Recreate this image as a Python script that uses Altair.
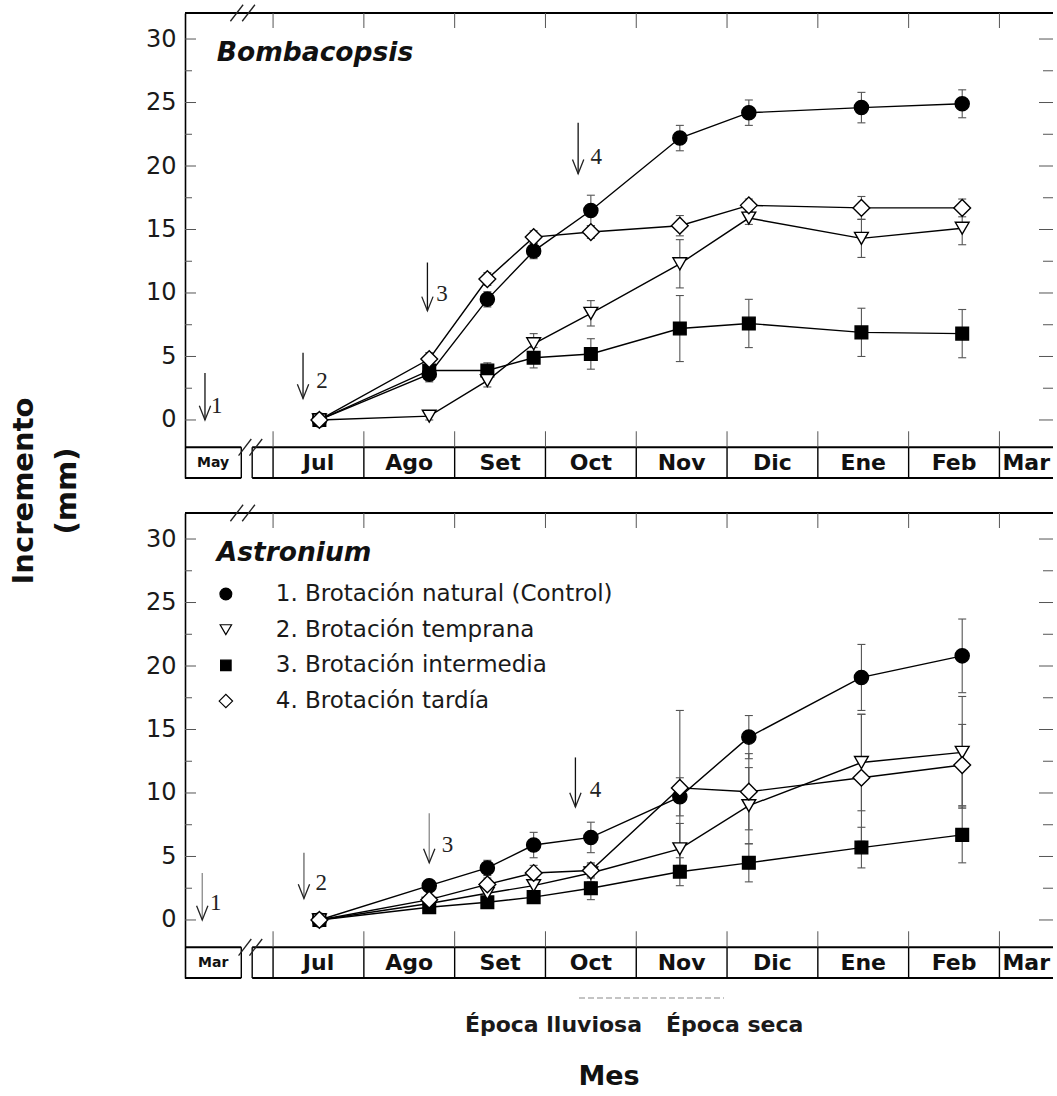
import altair as alt
import pandas as pd

# ---------------------------------------------------------------- data
# sampling dates, in months elapsed since 1 July (Jul = 0 ... Mar = 8)
fechas = [0.51, 1.72, 2.36, 2.87, 3.50, 4.48, 5.24, 6.48, 7.59]

tratamientos = [
    "1. Brotación natural (Control)",
    "2. Brotación temprana",
    "3. Brotación intermedia",
    "4. Brotación tardía",
]

# Bombacopsis: mean increment (mm) and half-length of the error bar
bomb_natural = [0, 3.6, 9.5, 13.3, 16.5, 22.2, 24.2, 24.6, 24.9]
bomb_natural_err = [0, 0.6, 0.6, 0.6, 1.2, 1.0, 1.0, 1.2, 1.1]
bomb_temprana = [0, 0.3, 3.1, 6.0, 8.4, 12.3, 15.9, 14.3, 15.1]
bomb_temprana_err = [0, 0.3, 0.5, 0.8, 1.0, 1.9, 0.5, 1.5, 1.3]
bomb_intermedia = [0, 3.9, 3.9, 4.9, 5.2, 7.2, 7.6, 6.9, 6.8]
bomb_intermedia_err = [0, 0.6, 0.6, 0.8, 1.2, 2.6, 1.9, 1.9, 1.9]
bomb_tardia = [0, 4.8, 11.1, 14.4, 14.8, 15.3, 16.9, 16.7, 16.7]
bomb_tardia_err = [0, 0.5, 0.5, 0.5, 0.5, 0.8, 0.5, 0.9, 0.7]

# Astronium
astr_natural = [0, 2.7, 4.1, 5.9, 6.5, 9.7, 14.4, 19.1, 20.8]
astr_natural_err = [0, 0.4, 0.6, 1.0, 1.2, 1.5, 1.7, 2.6, 2.9]
astr_temprana = [0, 1.3, 2.1, 2.7, 3.7, 5.6, 9.0, 12.4, 13.2]
astr_temprana_err = [0, 0.3, 0.4, 0.6, 0.7, 2.0, 3.0, 3.8, 4.4]
astr_intermedia = [0, 1.0, 1.4, 1.8, 2.5, 3.8, 4.5, 5.7, 6.7]
astr_intermedia_err = [0, 0.3, 0.4, 0.5, 0.9, 1.1, 1.5, 1.6, 2.2]
astr_tardia = [0, 1.6, 2.8, 3.7, 3.9, 10.4, 10.1, 11.2, 12.2]
astr_tardia_err = [0, 0.3, 0.5, 0.6, 0.6, 6.1, 3.0, 5.0, 3.2]

meses = ["Jul", "Ago", "Set", "Oct", "Nov", "Dic", "Ene", "Feb", "Mar"]
y_etiquetas = [0, 5, 10, 15, 20, 25, 30]

# sprouting events (arrows 1-4): date, arrow top / tip (mm), label position
flechas_bomb = {
    "x": [-0.75, 0.33, 1.70, 3.36],
    "y0": [3.7, 5.3, 12.4, 23.4],
    "y1": [0.0, 1.7, 8.6, 19.4],
    "lx": [-0.62, 0.54, 1.86, 3.56],
    "ly": [1.1, 3.1, 9.9, 20.7],
    "txt": ["1", "2", "3", "4"],
    "col": ["#111", "#111", "#111", "#111"],
}
flechas_astr = {
    "x": [-0.78, 0.34, 1.72, 3.33],
    "y0": [3.7, 5.3, 8.4, 12.8],
    "y1": [0.0, 1.7, 4.5, 8.9],
    "lx": [-0.63, 0.53, 1.92, 3.55],
    "ly": [1.3, 2.9, 5.9, 10.2],
    "txt": ["1", "2", "3", "4"],
    "col": ["#8a8a8a", "#666", "#8a8a8a", "#111"],
}

# ---------------------------------------------------------------- layout
SANS = "DejaVu Sans"
SERIF = "Liberation Serif"
W, H = 868, 465
X_MIN, X_MAX = -0.97, 8.59
Y_MIN, Y_MAX = -4.57, 32.05
PX_X = W / (X_MAX - X_MIN)
PX_Y = H / (Y_MAX - Y_MIN)
FILA = -2.15          # top edge of the month strip
CAJA1_FIN = -0.35     # right edge of the box before the axis break
CORTE_INI = -0.23     # strip resumes after the break

xs = alt.Scale(domain=[X_MIN, X_MAX], nice=False, zero=False)
ys = alt.Scale(domain=[Y_MIN, Y_MAX], nice=False, zero=False)
eje_y = alt.Axis(values=y_etiquetas, ticks=False, tickSize=0, grid=False,
                 domain=True, domainColor="black", domainWidth=1.6,
                 labelFont=SANS, labelFontSize=24, labelColor="#1a1a1a",
                 labelPadding=9, title=None)


def X(c):
    return alt.X(c, type="quantitative", scale=xs, axis=None)


def Y(c):
    return alt.Y(c, type="quantitative", scale=ys, axis=eje_y)


estilos = [
    dict(shape="circle", fill="black", size=200, ley=140),
    dict(shape="triangle-down", fill="white", size=190, ley=130),
    dict(shape="square", fill="black", size=160, ley=110),
    dict(shape="diamond", fill="white", size=280, ley=180),
]
orden_dibujo = [0, 2, 1, 3]


def marco(primer_mes):
    capas = []
    # month strip: horizontal edges (broken at the axis break) and top frame
    seg = pd.DataFrame({
        "x": [X_MIN, CORTE_INI, X_MIN, CORTE_INI, X_MIN],
        "x2": [CAJA1_FIN, X_MAX, CAJA1_FIN, X_MAX, X_MAX],
        "y": [FILA, FILA, Y_MIN, Y_MIN, Y_MAX],
    })
    capas.append(alt.Chart(seg).mark_rule(color="black", strokeWidth=2.2)
                 .encode(x=X("x"), x2="x2", y=Y("y")))
    # month separators
    sep = pd.DataFrame({"x": [CAJA1_FIN, CORTE_INI] + list(range(len(meses)))})
    sep["y"], sep["y2"] = FILA, Y_MIN
    capas.append(alt.Chart(sep).mark_rule(color="black", strokeWidth=1.4)
                 .encode(x=X("x"), y=Y("y"), y2="y2"))
    # month boundary ticks on the top frame and on the strip
    k = list(range(len(meses)))
    tk = pd.DataFrame({
        "x": k + k,
        "y": [Y_MAX] * len(k) + [FILA] * len(k),
        "y2": [Y_MAX - 15 / PX_Y] * len(k) + [FILA + 16 / PX_Y] * len(k),
    })
    capas.append(alt.Chart(tk).mark_rule(color="#555", strokeWidth=1)
                 .encode(x=X("x"), y=Y("y"), y2="y2"))
    # inward ticks every 2.5 mm on both sides
    vals = [i * 2.5 for i in range(13)]
    largo = [11 if v % 5 == 0 else 7 for v in vals]
    ty = pd.DataFrame({
        "y": vals + vals,
        "x": [X_MIN] * 13 + [X_MAX] * 13,
        "x2": [X_MIN + l / PX_X for l in largo] + [X_MAX - (l + 3) / PX_X for l in largo],
    })
    capas.append(alt.Chart(ty).mark_rule(color="#555", strokeWidth=1)
                 .encode(x=X("x"), x2="x2", y=Y("y")))
    # month names
    centros = [i + 0.5 for i in range(len(meses) - 1)] + [(len(meses) - 1 + X_MAX) / 2]
    et = pd.DataFrame({"x": centros, "t": meses})
    et["y"] = (FILA + Y_MIN) / 2
    capas.append(alt.Chart(et).mark_text(font=SANS, fontSize=22, fontWeight="bold",
                                         color="#111", baseline="middle")
                 .encode(x=X("x"), y=Y("y"), text="t:N"))
    p1 = pd.DataFrame({"x": [(X_MIN + CAJA1_FIN) / 2], "y": [(FILA + Y_MIN) / 2],
                       "t": [primer_mes]})
    capas.append(alt.Chart(p1).mark_text(font=SANS, fontSize=14, fontWeight="bold",
                                         color="#111", baseline="middle")
                 .encode(x=X("x"), y=Y("y"), text="t:N"))
    # axis-break slashes on the top frame and on the strip
    cx = [-0.40, -0.27, -0.31, -0.19]
    cy = [Y_MAX, Y_MAX, FILA, FILA]
    br = pd.DataFrame({
        "x": [c - 0.07 for c in cx], "x2": [c + 0.07 for c in cx],
        "y": [c - 0.65 for c in cy], "y2": [c + 0.65 for c in cy],
    })
    capas.append(alt.Chart(br).mark_rule(color="#222", strokeWidth=1.3)
                 .encode(x=X("x"), x2="x2", y=Y("y"), y2="y2"))
    return capas


def series_df(series):
    filas = []
    for trat, (vals, errs) in zip(tratamientos, series):
        for f, v, e in zip(fechas, vals, errs):
            filas.append({"fecha": f, "valor": v, "err": e,
                          "lo": v - e, "hi": v + e, "trat": trat})
    return pd.DataFrame(filas)


def datos(df):
    capas = []
    capas.append(alt.Chart(df).mark_line(color="black", strokeWidth=1.4)
                 .encode(x=X("fecha"), y=Y("valor"), detail="trat:N"))
    barras = df[df.err > 0]
    capas.append(alt.Chart(barras).mark_rule(color="#555", strokeWidth=1.1)
                 .encode(x=X("fecha"), y=Y("lo"), y2="hi"))
    tapas = pd.concat([barras.assign(yc=barras.lo), barras.assign(yc=barras.hi)])
    capas.append(alt.Chart(tapas).mark_point(shape="M-1,0L1,0", size=64, filled=False,
                                             color="#555", strokeWidth=1.1, opacity=1)
                 .encode(x=X("fecha"), y=Y("yc")))
    for i in orden_dibujo:
        e = estilos[i]
        sub = df[df.trat == tratamientos[i]]
        capas.append(alt.Chart(sub).mark_point(shape=e["shape"], filled=True, fill=e["fill"],
                                               stroke="black", strokeWidth=1.4,
                                               size=e["size"], opacity=1)
                     .encode(x=X("fecha"), y=Y("valor")))
    return capas


def flechas(fl):
    df = pd.DataFrame(fl)
    capas = []
    capas.append(alt.Chart(df).mark_rule(strokeWidth=1.3)
                 .encode(x=X("x"), y=Y("y0"), y2="y1",
                         color=alt.Color("col:N", scale=None)))
    capas.append(alt.Chart(df).mark_point(shape="M-0.8,-2L0,0L0.8,-2", size=200,
                                          filled=False, strokeWidth=1.3, opacity=1,
                                          color="#222")
                 .encode(x=X("x"), y=Y("y1")))
    capas.append(alt.Chart(df).mark_text(font=SERIF, fontSize=23, align="center",
                                         baseline="middle", color="#222")
                 .encode(x=X("lx"), y=Y("ly"), text="txt:N"))
    return capas


def especie(nombre):
    df = pd.DataFrame({"x": [-0.62], "y": [28.9], "t": [nombre]})
    return alt.Chart(df).mark_text(font=SANS, fontSize=26.5, fontWeight="bold",
                                   fontStyle="italic", align="left", baseline="middle",
                                   color="#111").encode(x=X("x"), y=Y("y"), text="t:N")


def leyenda():
    capas = []
    y0, paso = 25.67, 2.81
    for i, e in enumerate(estilos):
        d = pd.DataFrame({"x": [-0.52], "y": [y0 - i * paso]})
        capas.append(alt.Chart(d).mark_point(shape=e["shape"], filled=True, fill=e["fill"],
                                             stroke="black", strokeWidth=1.2,
                                             size=e["ley"], opacity=1)
                     .encode(x=X("x"), y=Y("y")))
    t = pd.DataFrame({"x": [0.03] * 4, "y": [y0 - i * paso for i in range(4)],
                      "t": tratamientos})
    capas.append(alt.Chart(t).mark_text(font=SANS, fontSize=23, align="left",
                                        baseline="middle", color="#1a1a1a")
                 .encode(x=X("x"), y=Y("y"), text="t:N"))
    return capas


def texto_fijo(t, x, y, **kw):
    return alt.Chart(pd.DataFrame({"t": [t]})).mark_text(**kw).encode(
        x=alt.value(x), y=alt.value(y), text="t:N")


# ---------------------------------------------------------------- panels
sup = alt.layer(
    *marco("May"),
    *datos(series_df([(bomb_natural, bomb_natural_err), (bomb_temprana, bomb_temprana_err),
                      (bomb_intermedia, bomb_intermedia_err), (bomb_tardia, bomb_tardia_err)])),
    *flechas(flechas_bomb),
    especie("Bombacopsis"),
    texto_fijo("Incremento", -161, 478, font=SANS, fontSize=29, fontWeight="bold",
               angle=270, align="center", baseline="middle", color="#111"),
    texto_fijo("(mm)", -118, 478, font=SANS, fontSize=29, fontWeight="bold",
               angle=270, align="center", baseline="middle", color="#111"),
).properties(width=W, height=H)

inf = alt.layer(
    *marco("Mar"),
    *datos(series_df([(astr_natural, astr_natural_err), (astr_temprana, astr_temprana_err),
                      (astr_intermedia, astr_intermedia_err), (astr_tardia, astr_tardia_err)])),
    *flechas(flechas_astr),
    especie("Astronium"),
    *leyenda(),
    alt.Chart(pd.DataFrame({"a": [0]})).mark_rule(color="#c4c4c4", strokeWidth=2,
                                                  strokeDash=[6, 3])
    .encode(x=alt.value(394), x2=alt.value(539), y=alt.value(485)),
    texto_fijo("Época lluviosa", 457, 512, font=SANS, fontSize=22, fontWeight="bold",
               align="right", baseline="middle", color="#1a1a1a"),
    texto_fijo("Época seca", 481, 512, font=SANS, fontSize=22, fontWeight="bold",
               align="left", baseline="middle", color="#1a1a1a"),
    texto_fijo("Mes", 424, 564, font=SANS, fontSize=27, fontWeight="bold",
               align="center", baseline="middle", color="#111"),
).properties(width=W, height=H)

chart = alt.vconcat(sup, inf, spacing=35, bounds="flush").properties(
    padding={"left": 10, "top": 4, "right": 0, "bottom": 0},
    background="white",
).configure_view(stroke=None)

chart.save("out.html", embed_options={"renderer": "svg", "actions": False})
